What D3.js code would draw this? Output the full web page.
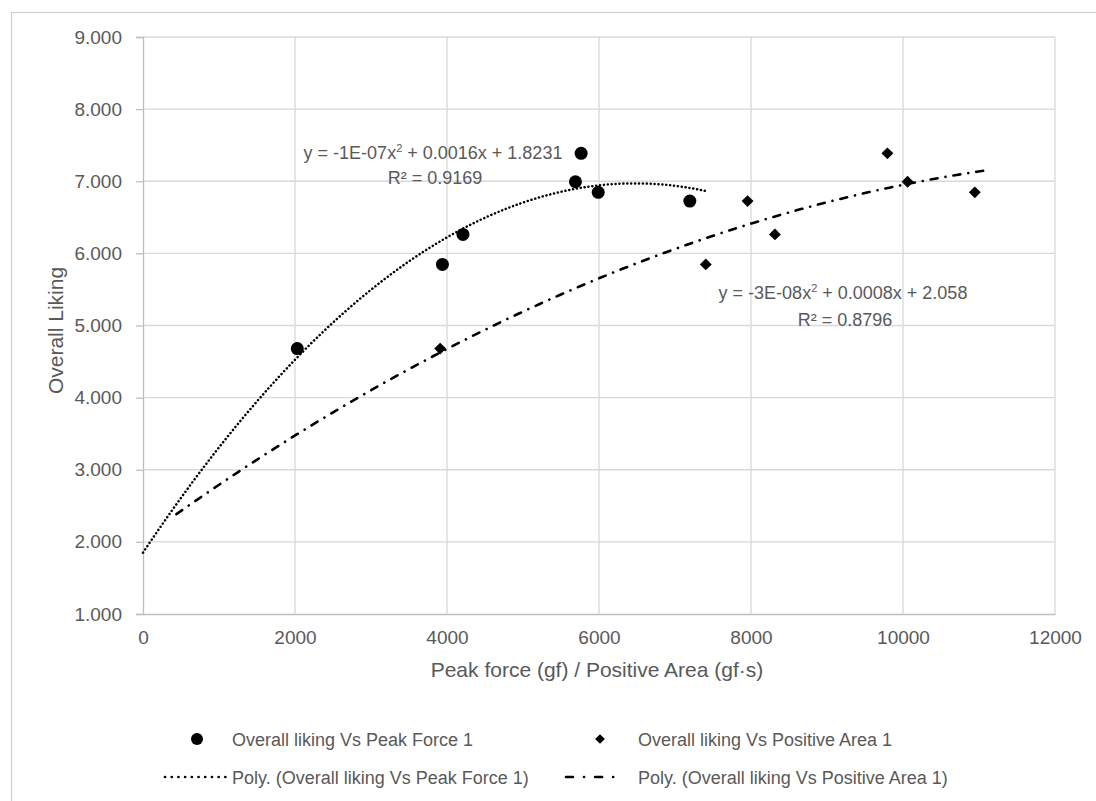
<!DOCTYPE html>
<html>
<head>
<meta charset="utf-8">
<script src="https://cdn.jsdelivr.net/npm/d3@7"></script>
<style>
  body { margin: 0; background: #fff; }
  svg { display: block; }
  text { font-family: "Liberation Sans", Arial, sans-serif; fill: #595959; }
</style>
</head>
<body>
<svg width="1096" height="801"></svg>
<script>
// liking scores, shared by both series
var likingScores = [4.680, 5.847, 6.263, 6.993, 7.387, 6.846, 6.725];
// x values (gf and gf.s)
var peakForce = [2030, 3940, 4210, 5690, 5765, 5990, 7195];
var positiveArea = [3910, 7405, 8315, 10060, 9795, 10945, 7955];

// extent of the drawn trendlines (with Excel's forecast)
var peakTrendRange = [0, 7400];
var areaTrendRange = [440, 11060];

var xTicks = [0, 2000, 4000, 6000, 8000, 10000, 12000];
var yTicks = [1, 2, 3, 4, 5, 6, 7, 8, 9];

var peakEquation = ["y = -1E-07x", "2", " + 0.0016x + 1.8231"];
var peakR2 = "R² = 0.9169";
var areaEquation = ["y = -3E-08x", "2", " + 0.0008x + 2.058"];
var areaR2 = "R² = 0.8796";

var legendLabels = [
    "Overall liking Vs Peak Force 1",
    "Overall liking Vs Positive Area 1",
    "Poly. (Overall liking Vs Peak Force 1)",
    "Poly. (Overall liking Vs Positive Area 1)"
];

var svg = d3.select("svg");

var margin = {left: 143, top: 37, right: 1055, bottom: 614};

var x = d3.scaleLinear().domain([0, 12000]).range([margin.left, margin.right]);
var y = d3.scaleLinear().domain([1, 9]).range([margin.bottom, margin.top]);

// outer chart border (cropped on right and bottom)
svg.append("rect")
    .attr("x", 11.5).attr("y", 12.5)
    .attr("width", 1100).attr("height", 800)
    .attr("fill", "none")
    .attr("stroke", "#d0d0d0")
    .attr("stroke-width", 1.2);

// gridlines
svg.append("g").selectAll("line.h")
    .data(yTicks.slice(1))
    .enter().append("line")
    .attr("x1", margin.left).attr("x2", margin.right)
    .attr("y1", function(d) { return y(d); })
    .attr("y2", function(d) { return y(d); })
    .attr("stroke", "#d9d9d9").attr("stroke-width", 1.3);

svg.append("g").selectAll("line.v")
    .data(xTicks.slice(1))
    .enter().append("line")
    .attr("y1", margin.top).attr("y2", margin.bottom)
    .attr("x1", function(d) { return x(d); })
    .attr("x2", function(d) { return x(d); })
    .attr("stroke", "#d9d9d9").attr("stroke-width", 1.3);

// axes
var yAxis = d3.axisLeft(y).tickValues(yTicks).tickFormat(d3.format(".3f"))
    .tickSize(7).tickPadding(14);
var gy = svg.append("g").attr("transform", "translate(" + margin.left + ",0)").call(yAxis);
gy.select(".domain").attr("stroke", "#bfbfbf").attr("stroke-width", 1.3);
gy.selectAll(".tick line").attr("stroke", "#bfbfbf").attr("stroke-width", 1.3);
gy.selectAll(".tick text").style("font-size", "19px").attr("fill", "#595959");

var xAxis = d3.axisBottom(x).tickValues(xTicks).tickFormat(d3.format("d"))
    .tickSize(0).tickPadding(17);
var gx = svg.append("g").attr("transform", "translate(0," + margin.bottom + ")").call(xAxis);
gx.select(".domain").attr("stroke", "#bfbfbf").attr("stroke-width", 1.3);
gx.selectAll(".tick text").style("font-size", "19px").attr("fill", "#595959");

// axis titles
svg.append("text")
    .attr("x", 597).attr("y", 677)
    .attr("text-anchor", "middle")
    .style("font-size", "21px")
    .text("Peak force (gf) / Positive Area (gf·s)");

svg.append("text")
    .attr("transform", "translate(63," + ((margin.top + margin.bottom) / 2 + 5) + ") rotate(-90)")
    .attr("text-anchor", "middle")
    .style("font-size", "21px")
    .text("Overall Liking");

// least squares quadratic fit, as the spreadsheet trendline does
function polyFit2(xs, ys) {
    var s = [0, 0, 0, 0, 0], t = [0, 0, 0];
    xs.forEach(function(xi, i) {
        for (var k = 0; k < 5; k++) s[k] += Math.pow(xi, k);
        for (var k2 = 0; k2 < 3; k2++) t[k2] += ys[i] * Math.pow(xi, k2);
    });
    var m = [[s[0], s[1], s[2], t[0]], [s[1], s[2], s[3], t[1]], [s[2], s[3], s[4], t[2]]];
    for (var i = 0; i < 3; i++) {
        for (var j = i + 1; j < 3; j++) {
            var f = m[j][i] / m[i][i];
            for (var k3 = i; k3 < 4; k3++) m[j][k3] -= f * m[i][k3];
        }
    }
    var c = [0, 0, 0];
    for (var i2 = 2; i2 >= 0; i2--) {
        var v = m[i2][3];
        for (var j2 = i2 + 1; j2 < 3; j2++) v -= m[i2][j2] * c[j2];
        c[i2] = v / m[i2][i2];
    }
    return function(xv) { return c[0] + c[1] * xv + c[2] * xv * xv; };
}

var peakFit = polyFit2(peakForce, likingScores);
var areaFit = polyFit2(positiveArea, likingScores);

function trendPoints(fit, range) {
    var step = (range[1] - range[0]) / 120;
    return d3.range(range[0], range[1] + step / 2, step).map(function(v) { return [v, fit(v)]; });
}

var line = d3.line()
    .x(function(d) { return x(d[0]); })
    .y(function(d) { return y(d[1]); })
    .curve(d3.curveLinear);

svg.append("path")
    .datum(trendPoints(peakFit, peakTrendRange))
    .attr("d", line)
    .attr("fill", "none")
    .attr("stroke", "#000")
    .attr("stroke-width", 2.5)
    .attr("stroke-linecap", "round")
    .attr("stroke-dasharray", "0.1 3.8");

svg.append("path")
    .datum(trendPoints(areaFit, areaTrendRange))
    .attr("d", line)
    .attr("fill", "none")
    .attr("stroke", "#000")
    .attr("stroke-width", 2.6)
    .attr("stroke-linecap", "round")
    .attr("stroke-dasharray", "7 8 0.1 8");

// markers
var peakPts = peakForce.map(function(v, i) { return [v, likingScores[i]]; });
var areaPts = positiveArea.map(function(v, i) { return [v, likingScores[i]]; });

svg.append("g").selectAll("circle")
    .data(peakPts)
    .enter().append("circle")
    .attr("cx", function(d) { return x(d[0]); })
    .attr("cy", function(d) { return y(d[1]); })
    .attr("r", 6.5)
    .attr("fill", "#000");

var diamond = d3.symbol().type(d3.symbolDiamond2).size(90);
svg.append("g").selectAll("path")
    .data(areaPts)
    .enter().append("path")
    .attr("d", diamond)
    .attr("transform", function(d) { return "translate(" + x(d[0]) + "," + y(d[1]) + ")"; })
    .attr("fill", "#000");

// equation labels
function equation(parts, r2, cx, cy, gap) {
    var t = svg.append("text")
        .attr("x", cx).attr("y", cy)
        .attr("text-anchor", "middle")
        .style("font-size", "18px");
    t.append("tspan").text(parts[0]);
    t.append("tspan").attr("dy", -7).style("font-size", "11px").text(parts[1]);
    t.append("tspan").attr("dy", 7).text(parts[2]);
    svg.append("text")
        .attr("x", cx + 2).attr("y", cy + gap)
        .attr("text-anchor", "middle")
        .style("font-size", "18px")
        .text(r2);
}
equation(peakEquation, peakR2, 433, 159, 25);
equation(areaEquation, areaR2, 843, 299, 27);

// legend
var lg = svg.append("g");
lg.append("circle").attr("cx", 197).attr("cy", 739).attr("r", 6).attr("fill", "#000");
lg.append("path").attr("d", d3.symbol().type(d3.symbolDiamond2).size(60))
    .attr("transform", "translate(600,739)").attr("fill", "#000");
lg.append("line").attr("x1", 165).attr("x2", 227).attr("y1", 777).attr("y2", 777)
    .attr("stroke", "#000").attr("stroke-width", 2.6)
    .attr("stroke-linecap", "round").attr("stroke-dasharray", "0.1 6.6");
lg.append("line").attr("x1", 566).attr("x2", 617).attr("y1", 777).attr("y2", 777)
    .attr("stroke", "#000").attr("stroke-width", 2.6)
    .attr("stroke-linecap", "round").attr("stroke-dasharray", "7 11 0.1 11");

var legendPos = [[232, 746], [638, 746], [232, 784], [638, 784]];
lg.selectAll("text")
    .data(legendLabels)
    .enter().append("text")
    .attr("x", function(d, i) { return legendPos[i][0]; })
    .attr("y", function(d, i) { return legendPos[i][1]; })
    .style("font-size", "18px")
    .text(function(d) { return d; });
</script>
</body>
</html>
